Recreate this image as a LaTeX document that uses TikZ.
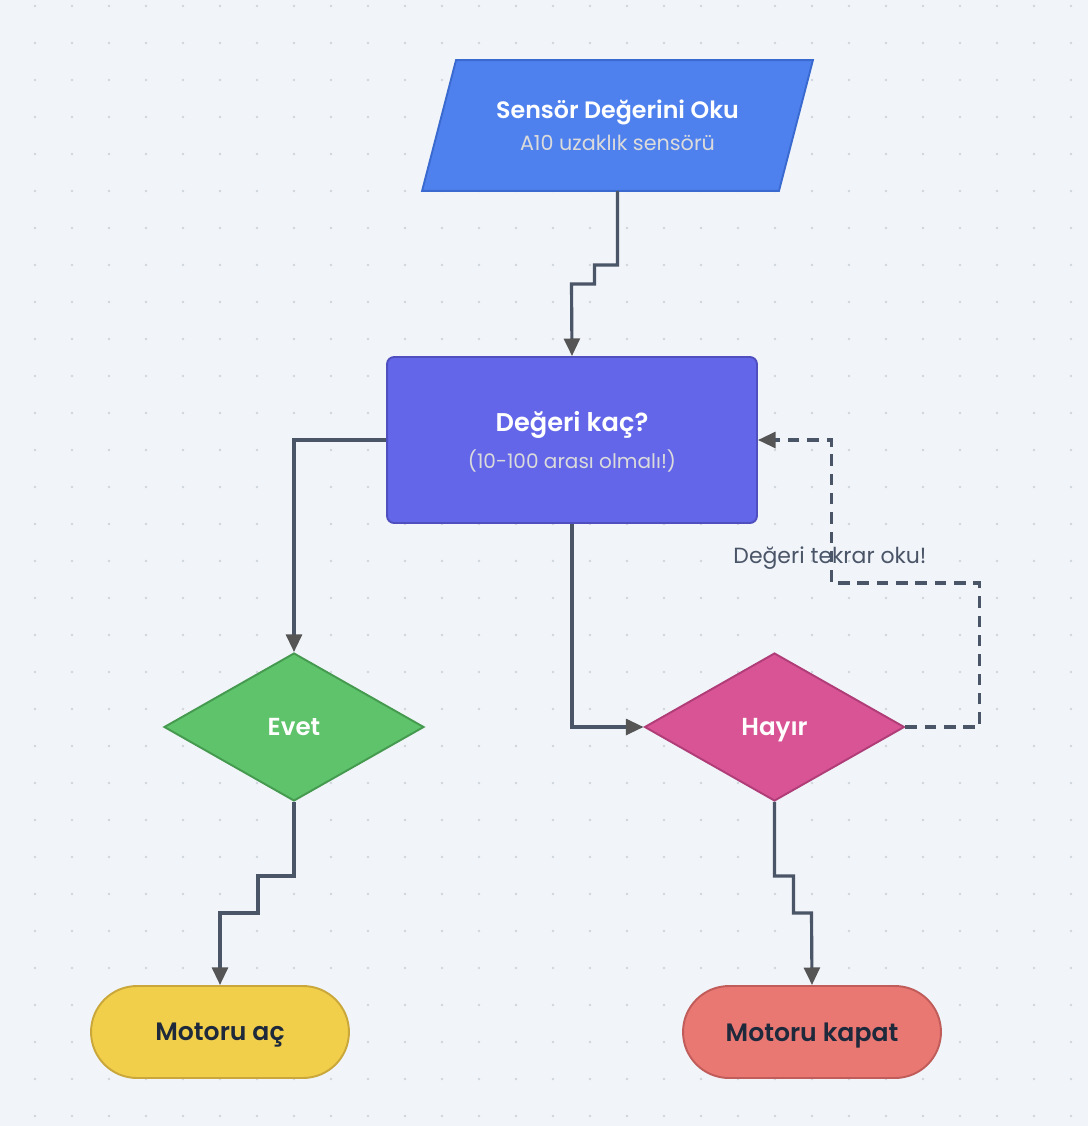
\documentclass[tikz,border=0pt]{standalone}
\usepackage{fontspec}
\setmainfont{Poppins}[BoldFont={Poppins SemiBold}]
\usetikzlibrary{shapes.geometric,arrows.meta}
\definecolor{bgcol}{HTML}{F1F5F9}
\definecolor{dotcol}{HTML}{CFD5DE}
\definecolor{linecol}{HTML}{4A5568}
\definecolor{tipcol}{HTML}{555555}
\definecolor{txtdark}{HTML}{1E293B}
\definecolor{readfill}{HTML}{4F81EE}
\definecolor{readline}{HTML}{3A6AD0}
\definecolor{askfill}{HTML}{6366E9}
\definecolor{askline}{HTML}{4F4FC0}
\definecolor{yesfill}{HTML}{5EC36B}
\definecolor{yesline}{HTML}{459A50}
\definecolor{nofill}{HTML}{D85495}
\definecolor{noline}{HTML}{B03D78}
\definecolor{onfill}{HTML}{F2CF4A}
\definecolor{online}{HTML}{C9A73A}
\definecolor{offfill}{HTML}{E97772}
\definecolor{offline}{HTML}{C05C5A}
\tikzset{
  base/.style={line width=1.1pt, inner sep=0pt, align=center, text depth=0pt},
  iobox/.style={base, rectangle, minimum width=7.78cm, minimum height=2.58cm, text=white},
  procbox/.style={base, rectangle, rounded corners=4pt, minimum width=7.4cm,
    minimum height=3.32cm, fill=askfill, draw=askline, text=white},
  choice/.style={base, diamond, minimum width=5.2cm, minimum height=2.96cm,
    fill=#1fill, draw=#1line, text=white, font=\bfseries\fontsize{14}{16}\selectfont},
  endbox/.style={base, rectangle, rounded corners=0.92cm, minimum width=5.16cm,
    minimum height=1.84cm, fill=#1fill, draw=#1line, text=txtdark,
    font=\bfseries\fontsize{14.3}{16}\selectfont},
  flow/.style={line width=1.8pt, draw=linecol,
    -{Triangle[length=10pt,width=9pt,color=tipcol]}},
  back/.style={flow, dashed, dash pattern=on 6.5pt off 4.5pt},
  hint/.style={text=linecol, font=\fontsize{12.5}{14}\selectfont}
}
\newcommand{\titletext}[4]{{\bfseries\fontsize{#3}{15}\selectfont #1}\\[5pt]{\fontsize{#4}{13}\selectfont\color{white!86!black}#2}}

\begin{document}
\begin{tikzpicture}[x=0.02cm,y=-0.02cm]
\fill[bgcol] (0,0) rectangle (1088,1126);
\useasboundingbox (0,0) rectangle (1088,1126);
% dotted grid
\foreach \i in {0,...,28}
  \foreach \j in {0,...,30}
    \fill[dotcol] (35+37*\i,6+37*\j) circle (1.3);

\node[iobox] (read) at (617.5,125.5) {};
\filldraw[fill=readfill, draw=readline, line width=1.1pt] (read.south west) -- ([xshift=0.68cm]read.north west)
  -- (read.north east) -- ([xshift=-0.68cm]read.south east) -- cycle;
\node[iobox] at (read) {\titletext{Sensör Değerini Oku}{A10 uzaklık sensörü}{13.5}{11.8}};
\node[procbox] (ask) at (572,440) {\titletext{Değeri kaç?}{(10-100 arası olmalı!)}{14.6}{11.4}};
\node[choice=yes] (yes) at (294,727) {Evet};
\node[choice=no] (no) at (774.5,727) {Hayır};
\node[endbox=on] (motoron) at (220,1032) {Motoru aç};
\node[endbox=off] (motoroff) at (812,1032) {Motoru kapat};

\draw[flow] (read.south) -- ++(0,74) -- ++(-23,0) -- ++(0,19) -- ++(-23,0) -- (ask.north);
\draw[flow] (ask.west) -| (yes.north);
\draw[flow] (ask.south) |- (no.west);
\draw[back] (no.east) -- ++(74,0) -- ++(0,-144) -- ++(-148,0) |- (ask.east);
\node[hint] (retry) at (830,558) {Değeri tekrar oku!};
\draw[flow] (yes.south) -- ++(0,74) -- ++(-36,0) -- ++(0,37) -- ++(-38,0) -- (motoron.north);
\draw[flow] (no.south) -- ++(0,74) -- ++(19,0) -- ++(0,37) -- ++(18,0) -- (motoroff.north);
\end{tikzpicture}
\end{document}
